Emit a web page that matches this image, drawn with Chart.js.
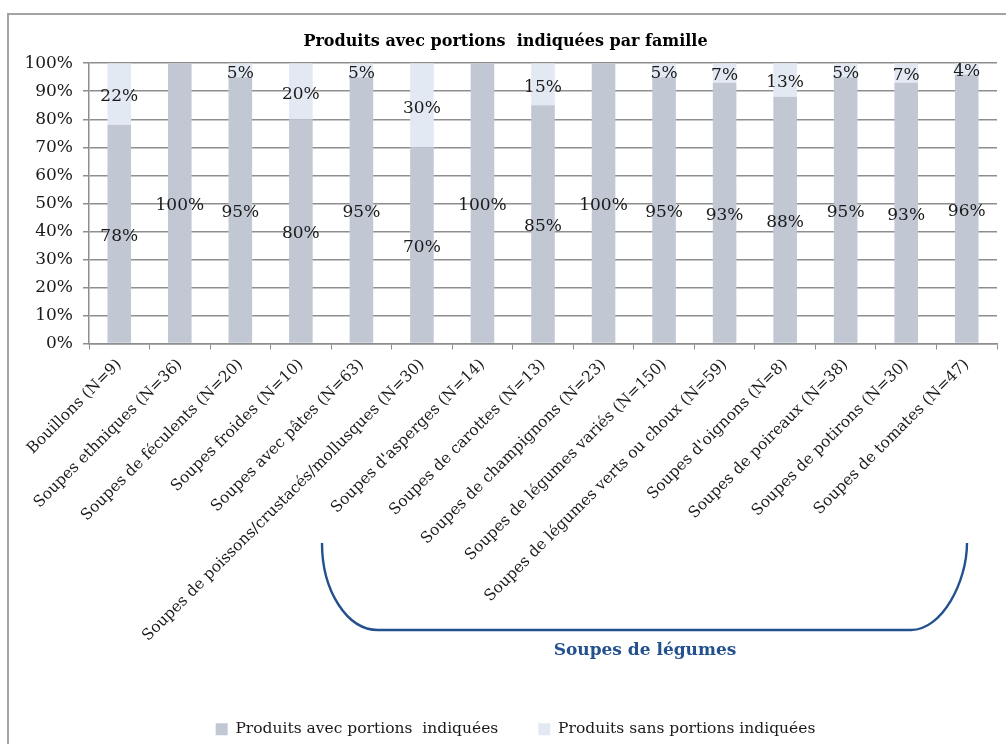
<!DOCTYPE html>
<html lang="fr">
<head>
<meta charset="utf-8">
<title>Produits avec portions indiquées par famille</title>
<script src="https://cdn.jsdelivr.net/npm/chart.js@4.4.1/dist/chart.umd.min.js"></script>
<style>
  html, body { margin: 0; padding: 0; background: #fff; overflow: hidden; }
  #wrap { position: relative; width: 1006px; height: 744px; }
  #frame { position: absolute; left: 7px; top: 13px; width: 1100px; height: 800px;
           border: 2px solid #a3a3a3; box-sizing: border-box; pointer-events: none; }
  canvas { position: absolute; left: 0; top: 0; }
</style>
</head>
<body>
<div id="wrap">
  <div id="frame"></div>
  <canvas id="chart" width="1006" height="744"></canvas>
</div>
<script>
// Familles de soupes et part des produits avec / sans portions indiquées (%)
const categories = [
  "Bouillons (N=9)",
  "Soupes ethniques (N=36)",
  "Soupes de féculents (N=20)",
  "Soupes froides (N=10)",
  "Soupes avec pâtes (N=63)",
  "Soupes de poissons/crustacés/mollusques (N=30)",
  "Soupes d'asperges (N=14)",
  "Soupes de carottes (N=13)",
  "Soupes de champignons (N=23)",
  "Soupes de légumes variés (N=150)",
  "Soupes de légumes verts ou choux (N=59)",
  "Soupes d'oignons (N=8)",
  "Soupes de poireaux (N=38)",
  "Soupes de potirons (N=30)",
  "Soupes de tomates (N=47)"
];
const avecPortions = [78, 100, 95, 80, 95, 70, 100, 85, 100, 95, 93, 88, 95, 93, 96];
const sansPortions = [22, 0, 5, 20, 5, 30, 0, 15, 0, 5, 7, 13, 5, 7, 4];
const yTicks = [0, 10, 20, 30, 40, 50, 60, 70, 80, 90, 100];

const seriesNames = ["Produits avec portions  indiquées", "Produits sans portions indiquées"];
const groupLabel = "Soupes de légumes";

const SERIF = "'DejaVu Serif', 'Liberation Serif', serif";
const GRID = "#8e8e8e";

// Étiquettes de valeur centrées dans chaque segment
const valueLabels = {
  id: "valueLabels",
  afterDatasetsDraw(chart) {
    const ctx = chart.ctx;
    ctx.save();
    ctx.font = "17px " + SERIF;
    ctx.fillStyle = "#1a1a1a";
    ctx.textAlign = "center";
    ctx.textBaseline = "middle";
    chart.data.datasets.forEach((ds, di) => {
      const meta = chart.getDatasetMeta(di);
      meta.data.forEach((bar, i) => {
        const v = ds.data[i];
        if (!v) return;
        const p = bar.getProps(["x", "y", "base"], true);
        const top = Math.max(p.y, chart.chartArea.top);
        ctx.fillText(v + "%", p.x, (top + p.base) / 2 + 3);
      });
    });
    ctx.restore();
  }
};

// Accolade regroupant les soupes de légumes
const groupBrace = {
  id: "groupBrace",
  afterDraw(chart) {
    const ctx = chart.ctx;
    const x0 = 322, x1 = 967, yTop = 543, yBot = 630, r = 56;
    const k = 0.552;
    const ry = yBot - yTop;
    ctx.save();
    ctx.strokeStyle = "#23518e";
    ctx.lineWidth = 2.4;
    ctx.beginPath();
    ctx.moveTo(x0, yTop);
    ctx.bezierCurveTo(x0, yTop + ry * k, x0 + r - r * k, yBot, x0 + r, yBot);
    ctx.lineTo(x1 - r, yBot);
    ctx.bezierCurveTo(x1 - r + r * k, yBot, x1, yBot - ry * k, x1, yTop);
    ctx.stroke();
    ctx.font = "bold 17px " + SERIF;
    ctx.fillStyle = "#23518e";
    ctx.textAlign = "center";
    ctx.textBaseline = "middle";
    ctx.fillText(groupLabel, 645, 651);
    ctx.restore();
  }
};

// Léger décalage du titre et de la légende après la mise en page
const blockNudge = {
  id: "blockNudge",
  afterUpdate(chart) {
    const t = chart.titleBlock;
    if (t) { t.left += 7; t.right += 7; }
    const lg = chart.legend;
    if (lg) {
      lg.left += 17; lg.right += 17;
      lg.top += 3; lg.bottom += 3;
      if (lg.legendHitBoxes) lg.legendHitBoxes.forEach(h => { h.left += 17; h.top += 3; });
    }
  }
};

new Chart(document.getElementById("chart"), {
  type: "bar",
  data: {
    labels: categories,
    datasets: [
      { label: seriesNames[0], data: avecPortions, backgroundColor: "#c1c8d4",
        barPercentage: 0.39, categoryPercentage: 1 },
      { label: seriesNames[1], data: sansPortions, backgroundColor: "#e3e9f3",
        barPercentage: 0.39, categoryPercentage: 1 }
    ]
  },
  options: {
    responsive: false,
    animation: false,
    layout: { padding: { top: 32, left: 0, right: 9, bottom: 0 } },
    plugins: {
      title: {
        display: true,
        text: "Produits avec portions  indiquées par famille",
        color: "#000",
        font: { family: SERIF, size: 16, weight: "bold" },
        padding: { top: 0, bottom: 12 }
      },
      legend: {
        position: "bottom",
        labels: {
          color: "#1a1a1a",
          font: { family: SERIF, size: 15.5 },
          boxWidth: 12,
          boxHeight: 12,
          padding: 40
        }
      },
      tooltip: { enabled: false }
    },
    scales: {
      x: {
        stacked: true,
        grid: { display: true, drawOnChartArea: false, drawTicks: true, tickLength: 6,
                color: GRID, offset: true },
        border: { display: true, color: GRID, width: 1.5 },
        ticks: {
          color: "#1a1a1a",
          font: { family: SERIF, size: 15.5 },
          minRotation: 45, maxRotation: 45,
          autoSkip: false,
          padding: 6
        },
        afterFit(scale) { scale.height = 335; }
      },
      y: {
        stacked: true,
        min: 0, max: 100,
        afterBuildTicks(scale) { scale.ticks = yTicks.map(v => ({ value: v })); },
        grid: { color: GRID, lineWidth: 1.5, drawTicks: true, tickLength: 6 },
        border: { display: true, color: GRID, width: 1.5 },
        ticks: {
          color: "#1a1a1a",
          font: { family: SERIF, size: 17 },
          padding: 10,
          callback: v => v + "%"
        },
        afterFit(scale) { scale.width = 89; }
      }
    }
  },
  plugins: [valueLabels, groupBrace, blockNudge]
});
</script>
</body>
</html>
